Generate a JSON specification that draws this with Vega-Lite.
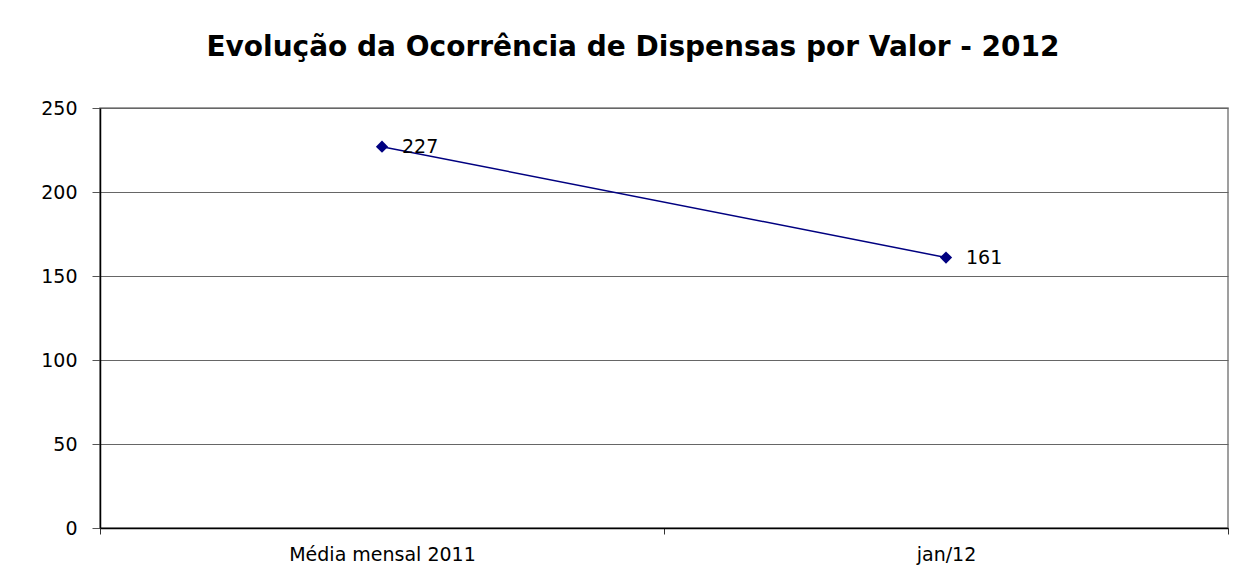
{
  "$schema": "https://vega.github.io/schema/vega-lite/v6.json",
  "autosize": "none",
  "width": 1128,
  "height": 420,
  "padding": {"left": 100, "top": 108, "right": 6, "bottom": 58},
  "background": "white",
  "config": {
    "font": "DejaVu Sans",
    "view": {"stroke": "#808080", "strokeWidth": 1.5}
  },
  "title": {
    "text": "Evolução da Ocorrência de Dispensas por Valor - 2012",
    "font": "DejaVu Sans",
    "fontSize": 28,
    "fontWeight": "bold",
    "color": "black",
    "anchor": "middle",
    "dx": -31,
    "offset": 37
  },
  "data": {
    "values": [
      {"periodo": "Média mensal 2011", "valor": 227},
      {"periodo": "jan/12", "valor": 161}
    ]
  },
  "encoding": {
    "x": {
      "field": "periodo",
      "type": "nominal",
      "sort": null,
      "scale": {"paddingInner": 0, "paddingOuter": 0},
      "axis": {
        "title": null,
        "labelAngle": 0,
        "labelLimit": 0,
        "labelFont": "DejaVu Sans",
        "labelFontSize": 19,
        "labelColor": "black",
        "labelPadding": 11,
        "tickBand": "extent",
        "tickSize": 6,
        "tickColor": "#333",
        "domainColor": "black",
        "domainWidth": 1.5,
        "grid": false
      }
    },
    "y": {
      "field": "valor",
      "type": "quantitative",
      "scale": {"domain": [0, 250], "nice": false},
      "axis": {
        "title": null,
        "values": [0, 50, 100, 150, 200, 250],
        "labelFont": "DejaVu Sans",
        "labelFontSize": 19,
        "labelColor": "black",
        "labelPadding": 15,
        "tickSize": 8,
        "tickColor": "#555",
        "domainColor": "black",
        "domainWidth": 1.5,
        "gridColor": "#666",
        "gridWidth": 1
      }
    }
  },
  "layer": [
    {"mark": {"type": "line", "color": "#000080", "strokeWidth": 1.5}},
    {"mark": {"type": "point", "shape": "diamond", "filled": true, "color": "#000080", "size": 150, "opacity": 1}},
    {
      "mark": {"type": "text", "align": "left", "baseline": "middle", "dx": 20, "fontSize": 19, "font": "DejaVu Sans", "color": "black"},
      "encoding": {"text": {"field": "valor", "type": "quantitative"}}
    }
  ]
}
